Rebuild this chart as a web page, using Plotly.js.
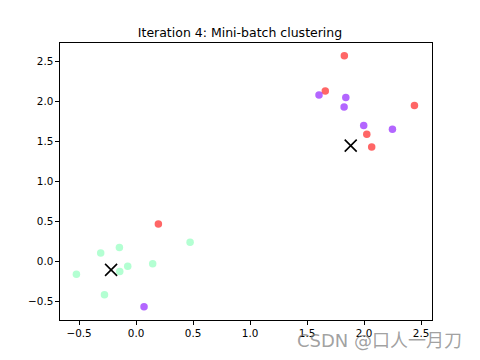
<!DOCTYPE html>
<html>
<head>
<meta charset="utf-8">
<script src="https://cdn.plot.ly/plotly-3.0.1.min.js"></script>
<style>html,body{margin:0;padding:0;background:#fff;}#chart{width:480px;height:360px;}</style>
</head>
<body>
<div id="chart"></div>
<script>
// Cluster 0 (red)
const redX = [1.827, 1.660, 2.442, 2.024, 2.067, 0.196];
const redY = [2.569, 2.126, 1.947, 1.585, 1.428, 0.465];
// Cluster 1 (purple)
const purpleX = [1.605, 1.840, 1.825, 1.997, 2.249, 0.070];
const purpleY = [2.076, 2.046, 1.927, 1.697, 1.648, -0.569];
// Cluster 2 (green)
const greenX = [0.474, -0.146, -0.310, -0.523, -0.277, -0.073, -0.143, 0.146];
const greenY = [0.237, 0.170, 0.103, -0.162, -0.420, -0.062, -0.128, -0.033];
// Centroids
const centX = [-0.219, 1.883];
const centY = [-0.108, 1.445];
const titleText = "Iteration 4: Mini-batch clustering";
const xTicks = [-0.5, 0.0, 0.5, 1.0, 1.5, 2.0, 2.5];
const yTicks = [-0.5, 0.0, 0.5, 1.0, 1.5, 2.0, 2.5];
const tickFmt = v => (v < 0 ? "\u2212" : "") + Math.abs(v).toFixed(1);

function pts(x, y, color) {
  return {x: x, y: y, type: "scatter", mode: "markers", hoverinfo: "skip",
    marker: {size: 7.5, color: color, line: {width: 0}}};
}
const data = [
  pts(redX, redY, "rgba(255,0,0,0.6)"),
  pts(purpleX, purpleY, "rgba(128,0,255,0.6)"),
  pts(greenX, greenY, "rgba(128,255,180,0.6)"),
  {x: centX, y: centY, type: "scatter", mode: "markers", hoverinfo: "skip",
   marker: {symbol: "x-thin", size: 12, color: "black", line: {width: 1.6, color: "black"}}}
];
const axisCommon = {showgrid: false, zeroline: false, showline: true, mirror: true,
  linecolor: "black", linewidth: 1, ticks: "outside", ticklen: 3.6, tickwidth: 1,
  tickcolor: "black", tickfont: {family: "DejaVu Sans", size: 10.4, color: "black"}, tickmode: "array"};
const layout = {
  width: 480, height: 360, showlegend: false,
  paper_bgcolor: "white", plot_bgcolor: "white",
  margin: {l: 60, r: 48, t: 43, b: 40},
  title: {text: titleText, x: 0.5, xanchor: "center", y: 1 - 33/360, yanchor: "middle",
          font: {family: "DejaVu Sans", size: 12.5, color: "black"}},
  xaxis: Object.assign({}, axisCommon, {range: [-0.667, 2.596], tickvals: xTicks, ticktext: xTicks.map(tickFmt)}),
  yaxis: Object.assign({}, axisCommon, {range: [-0.735, 2.727], tickvals: yTicks, ticktext: yTicks.map(tickFmt)}),
  annotations: [{text: "CSDN @口人一月刀", xref: "paper", yref: "paper", x: (464-60)/372, y: -(340-320)/277,
    xanchor: "right", yanchor: "middle", showarrow: false,
    font: {family: "DejaVu Sans, Noto Sans CJK SC", size: 18, color: "rgba(120,120,120,0.7)"}}]
};
Plotly.newPlot("chart", data, layout, {staticPlot: true});
</script>
</body>
</html>
